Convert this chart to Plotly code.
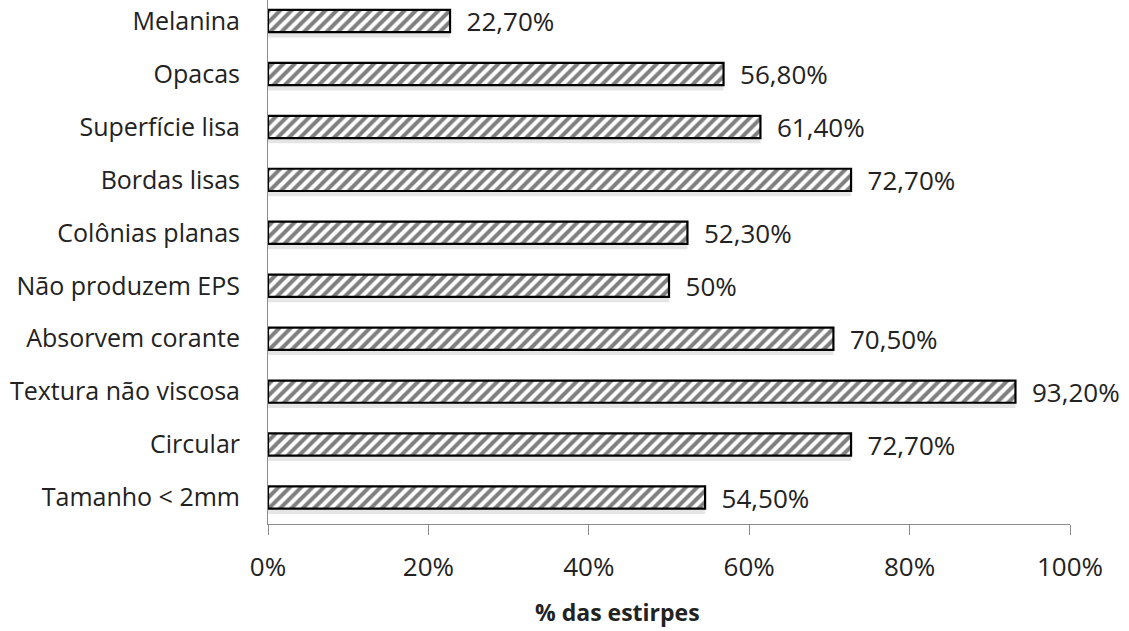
import plotly.graph_objects as go

categories = ["Tamanho < 2mm", "Circular", "Textura não viscosa", "Absorvem corante",
              "Não produzem EPS", "Colônias planas", "Bordas lisas", "Superfície lisa",
              "Opacas", "Melanina"]
values = [54.5, 72.7, 93.2, 70.5, 50.0, 52.3, 72.7, 61.4, 56.8, 22.7]
value_labels = ["54,50%", "72,70%", "93,20%", "70,50%", "50%", "52,30%", "72,70%",
                "61,40%", "56,80%", "22,70%"]
tick_vals = [0, 20, 40, 60, 80, 100]
tick_text = ["0%", "20%", "40%", "60%", "80%", "100%"]

FONT = "Open Sans"
TXT = "#222222"
BW = 0.42

fig = go.Figure()
# soft drop shadow beneath each bar
fig.add_trace(go.Bar(
    x=values, y=categories, orientation="h", width=BW, offset=-BW / 2 - 0.1,
    marker=dict(color="rgba(0,0,0,0.10)", line=dict(width=0)),
    hoverinfo="skip",
))
fig.add_trace(go.Bar(
    x=values, y=categories, orientation="h", width=BW, offset=-BW / 2,
    marker=dict(color="white", line=dict(color="black", width=2.2),
                pattern=dict(shape="/", fgcolor="black", bgcolor="white", size=8, solidity=0.5)),
    text=value_labels, texttemplate="\u00a0\u00a0%{text}", textposition="outside",
    constraintext="none", cliponaxis=False,
    textfont=dict(family=FONT, size=26, color=TXT),
))

fig.update_layout(
    width=1129, height=631,
    margin=dict(l=268, r=59, t=0, b=107),
    paper_bgcolor="white", plot_bgcolor="white",
    showlegend=False, barmode="overlay",
    font=dict(family=FONT, size=25, color=TXT),
    annotations=[dict(text="<b>% das estirpes</b>", xref="paper", yref="paper",
                      x=(617 - 268) / (1070 - 268), y=-(612 - 524) / 524,
                      xanchor="center", yanchor="middle", showarrow=False,
                      font=dict(family=FONT, size=23, color=TXT))],
)
fig.update_xaxes(
    range=[0, 100], tickvals=tick_vals, ticktext=tick_text,
    showgrid=False, zeroline=False, showline=True, linecolor="#8c8c8c", linewidth=1,
    ticks="outside", ticklen=10, tickcolor="#8c8c8c",
    ticklabelstandoff=10,
    tickfont=dict(family=FONT, size=26, color=TXT),
)
fig.update_yaxes(
    range=[-0.5, 9.398], showgrid=False, zeroline=False,
    showline=True, linecolor="#8c8c8c", linewidth=1, ticks="",
    ticklabelstandoff=22,
    tickfont=dict(family=FONT, size=25, color=TXT),
)

fig.write_html("out.html")
